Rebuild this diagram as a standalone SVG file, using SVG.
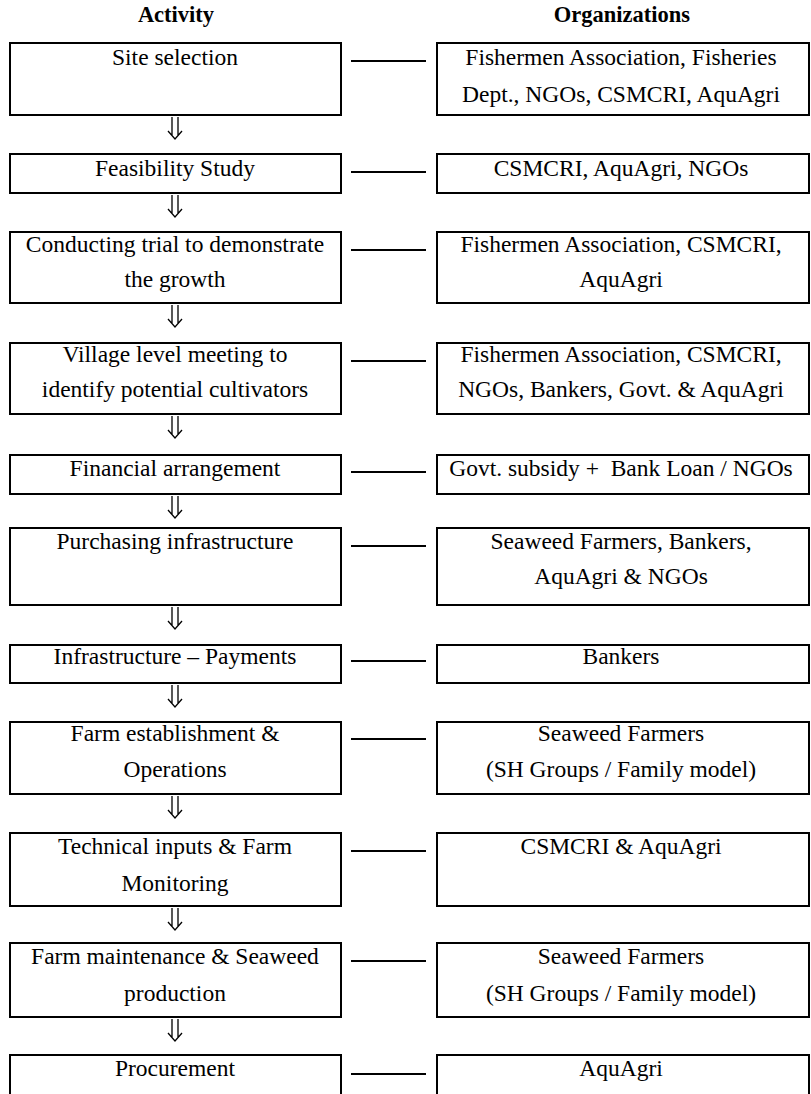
<svg xmlns="http://www.w3.org/2000/svg" width="811" height="1094" viewBox="0 0 811 1094">
  <style>
    .box { fill: #fff; stroke: #000; stroke-width: 2; }
    .t { font-family: "Liberation Serif", "Times New Roman", serif; font-size: 23.5px; text-anchor: middle; fill: #000; white-space: pre; }
    .h { font-weight: bold; font-size: 22.5px; }
    .link { stroke: #000; stroke-width: 2; }
    .arr { fill: none; stroke: #000; stroke-width: 1.3; }
  </style>
  <defs>
    <!-- double-shafted down arrow between consecutive activities -->
    <g id="dn">
      <path class="arr" d="M-3 0 V18 M3 0 V18 M-7 14 L0 22 L7 14"/>
    </g>
  </defs>
  <rect width="811" height="1094" fill="#fff"/>

  <g id="headers">
    <text class="t h" x="176" y="22">Activity</text>
    <text class="t h" x="622" y="22">Organizations</text>
  </g>

  <g id="connectors">
    <line class="link" x1="351" y1="61" x2="426" y2="61"/>
    <line class="link" x1="351" y1="172" x2="426" y2="172"/>
    <line class="link" x1="351" y1="250" x2="426" y2="250"/>
    <line class="link" x1="351" y1="361" x2="426" y2="361"/>
    <line class="link" x1="351" y1="472" x2="426" y2="472"/>
    <line class="link" x1="351" y1="546" x2="426" y2="546"/>
    <line class="link" x1="351" y1="661" x2="426" y2="661"/>
    <line class="link" x1="351" y1="739" x2="426" y2="739"/>
    <line class="link" x1="351" y1="851" x2="426" y2="851"/>
    <line class="link" x1="351" y1="961" x2="426" y2="961"/>
    <line class="link" x1="351" y1="1074" x2="426" y2="1074"/>
    <use href="#dn" x="175" y="117"/>
    <use href="#dn" x="175" y="195"/>
    <use href="#dn" x="175" y="305"/>
    <use href="#dn" x="175" y="416"/>
    <use href="#dn" x="175" y="496"/>
    <use href="#dn" x="175" y="607"/>
    <use href="#dn" x="175" y="685"/>
    <use href="#dn" x="175" y="796"/>
    <use href="#dn" x="175" y="908"/>
    <use href="#dn" x="175" y="1019"/>
  </g>

  <g id="act-site">
    <rect class="box" x="10" y="43" width="331" height="72"/>
    <text class="t" x="175" y="65">Site selection</text>
  </g>
  <g id="org-site">
    <rect class="box" x="437" y="43" width="372" height="72"/>
    <text class="t" x="621" y="65">Fishermen Association, Fisheries</text>
    <text class="t" x="621" y="102">Dept., NGOs, CSMCRI, AquAgri</text>
  </g>

  <g id="act-feasibility">
    <rect class="box" x="10" y="154" width="331" height="39"/>
    <text class="t" x="175" y="176">Feasibility Study</text>
  </g>
  <g id="org-feasibility">
    <rect class="box" x="437" y="154" width="372" height="39"/>
    <text class="t" x="621" y="176">CSMCRI, AquAgri, NGOs</text>
  </g>

  <g id="act-trial">
    <rect class="box" x="10" y="232" width="331" height="71"/>
    <text class="t" x="175" y="252">Conducting trial to demonstrate</text>
    <text class="t" x="175" y="287">the growth</text>
  </g>
  <g id="org-trial">
    <rect class="box" x="437" y="232" width="372" height="71"/>
    <text class="t" x="621" y="252">Fishermen Association, CSMCRI,</text>
    <text class="t" x="621" y="287">AquAgri</text>
  </g>

  <g id="act-meeting">
    <rect class="box" x="10" y="343" width="331" height="71"/>
    <text class="t" x="175" y="362">Village level meeting to</text>
    <text class="t" x="175" y="397">identify potential cultivators</text>
  </g>
  <g id="org-meeting">
    <rect class="box" x="437" y="343" width="372" height="71"/>
    <text class="t" x="621" y="362">Fishermen Association, CSMCRI,</text>
    <text class="t" x="621" y="397">NGOs, Bankers, Govt. &amp; AquAgri</text>
  </g>

  <g id="act-finance">
    <rect class="box" x="10" y="455" width="331" height="39"/>
    <text class="t" x="175" y="476">Financial arrangement</text>
  </g>
  <g id="org-finance">
    <rect class="box" x="437" y="455" width="372" height="39"/>
    <text class="t" x="621" y="476">Govt. subsidy +  Bank Loan / NGOs</text>
  </g>

  <g id="act-purchase">
    <rect class="box" x="10" y="528" width="331" height="77"/>
    <text class="t" x="175" y="549">Purchasing infrastructure</text>
  </g>
  <g id="org-purchase">
    <rect class="box" x="437" y="528" width="372" height="77"/>
    <text class="t" x="621" y="549">Seaweed Farmers, Bankers,</text>
    <text class="t" x="621" y="584">AquAgri &amp; NGOs</text>
  </g>

  <g id="act-payments">
    <rect class="box" x="10" y="645" width="331" height="38"/>
    <text class="t" x="175" y="664">Infrastructure – Payments</text>
  </g>
  <g id="org-payments">
    <rect class="box" x="437" y="645" width="372" height="38"/>
    <text class="t" x="621" y="664">Bankers</text>
  </g>

  <g id="act-establish">
    <rect class="box" x="10" y="722" width="331" height="72"/>
    <text class="t" x="175" y="741">Farm establishment &amp;</text>
    <text class="t" x="175" y="777">Operations</text>
  </g>
  <g id="org-establish">
    <rect class="box" x="437" y="722" width="372" height="72"/>
    <text class="t" x="621" y="741">Seaweed Farmers</text>
    <text class="t" x="621" y="777">(SH Groups / Family model)</text>
  </g>

  <g id="act-monitor">
    <rect class="box" x="10" y="833" width="331" height="73"/>
    <text class="t" x="175" y="854">Technical inputs &amp; Farm</text>
    <text class="t" x="175" y="891">Monitoring</text>
  </g>
  <g id="org-monitor">
    <rect class="box" x="437" y="833" width="372" height="73"/>
    <text class="t" x="621" y="854">CSMCRI &amp; AquAgri</text>
  </g>

  <g id="act-production">
    <rect class="box" x="10" y="943" width="331" height="74"/>
    <text class="t" x="175" y="964">Farm maintenance &amp; Seaweed</text>
    <text class="t" x="175" y="1001">production</text>
  </g>
  <g id="org-production">
    <rect class="box" x="437" y="943" width="372" height="74"/>
    <text class="t" x="621" y="964">Seaweed Farmers</text>
    <text class="t" x="621" y="1001">(SH Groups / Family model)</text>
  </g>

  <g id="act-procure">
    <rect class="box" x="10" y="1055" width="331" height="45"/>
    <text class="t" x="175" y="1076">Procurement</text>
  </g>
  <g id="org-procure">
    <rect class="box" x="437" y="1055" width="372" height="45"/>
    <text class="t" x="621" y="1076">AquAgri</text>
  </g>
</svg>
